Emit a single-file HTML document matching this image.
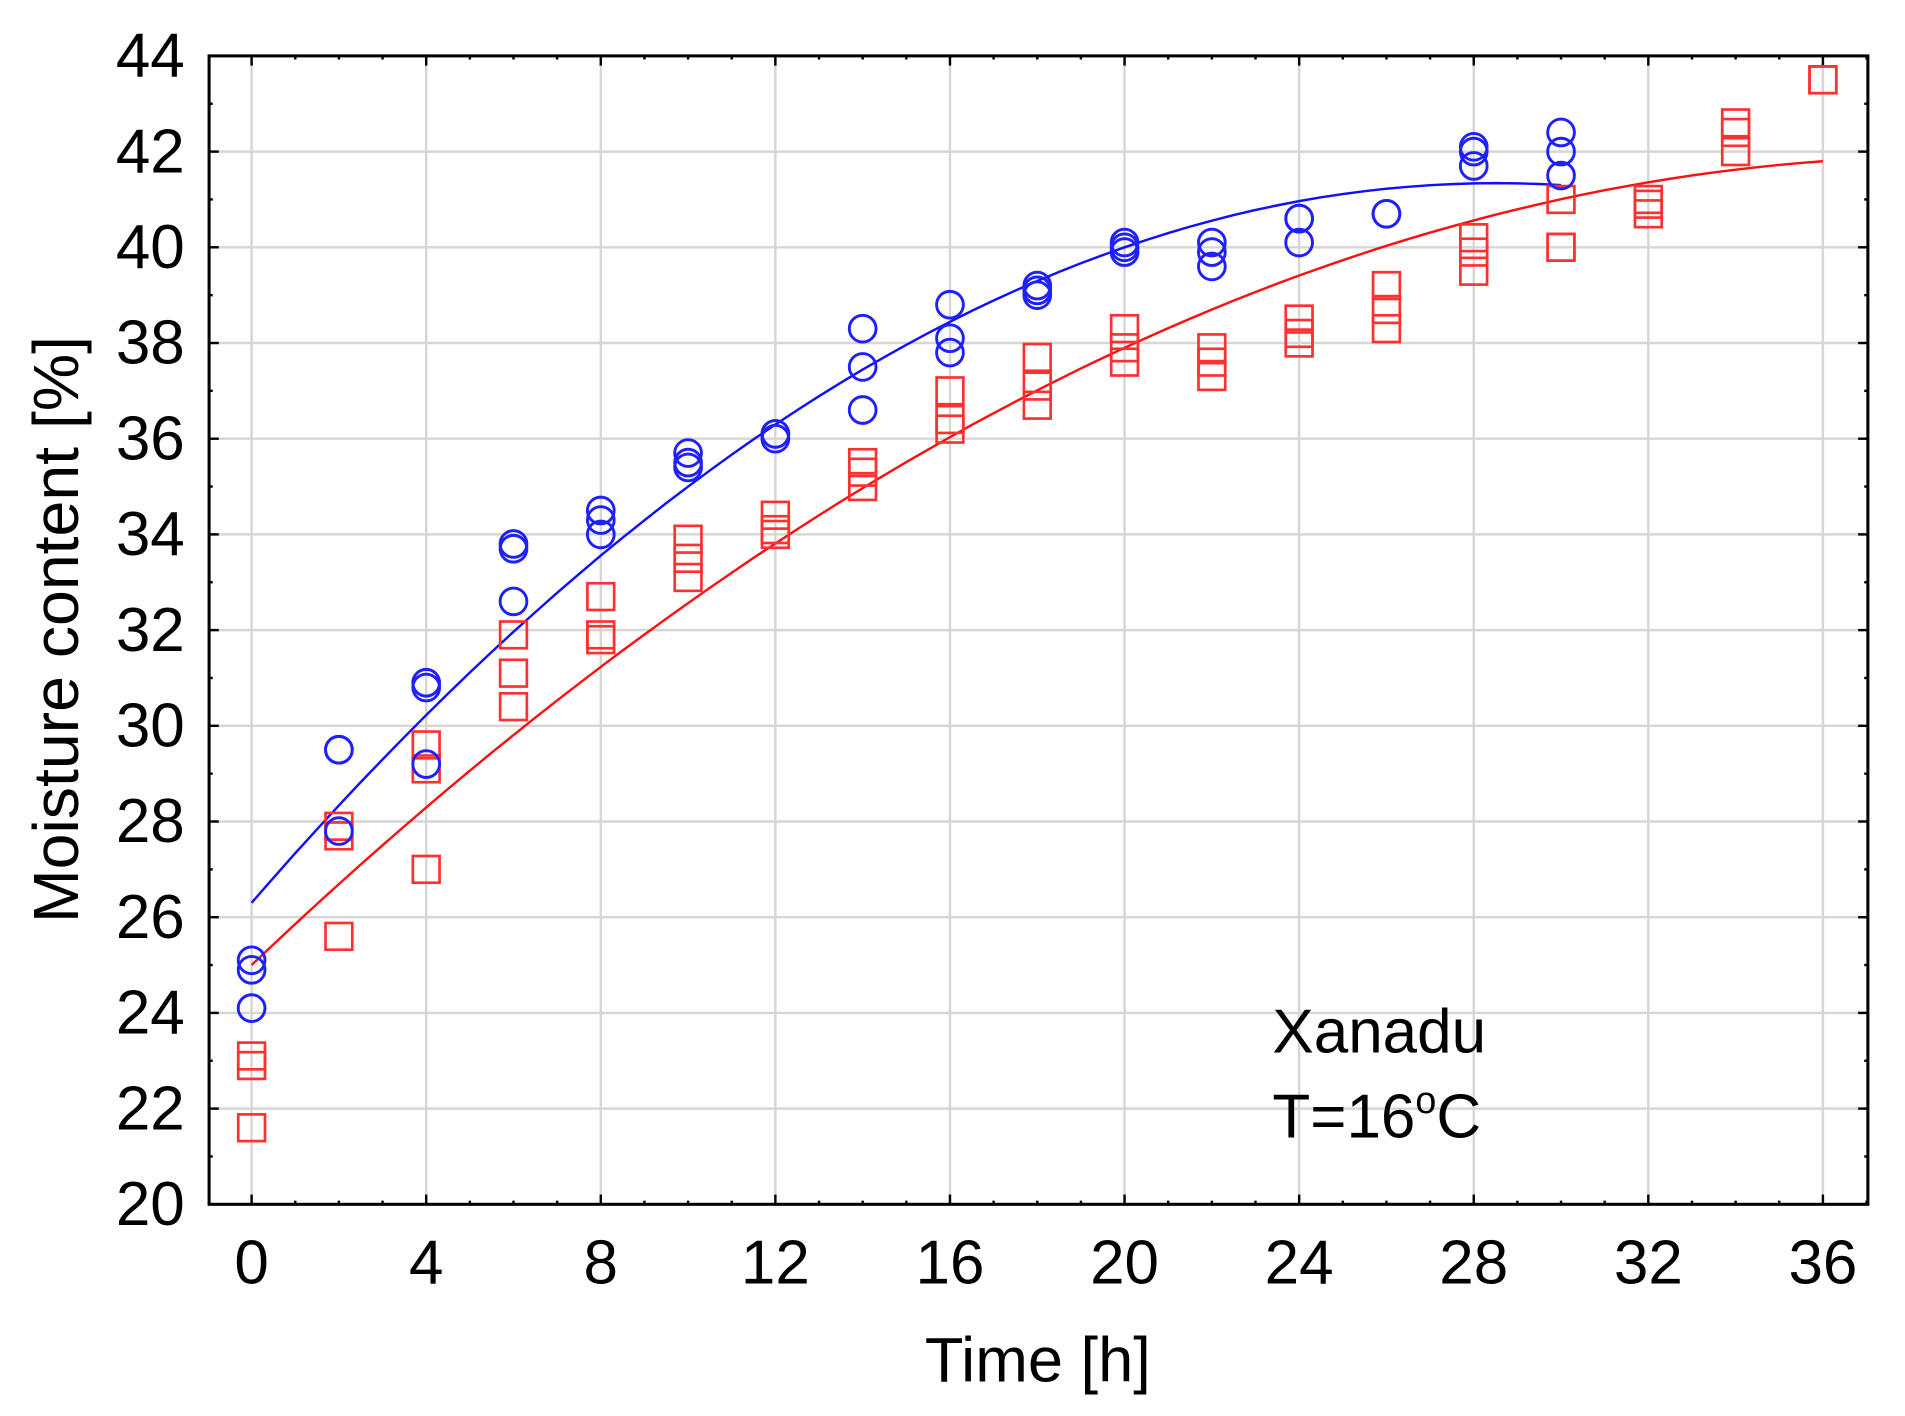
<!DOCTYPE html>
<html><head><meta charset="utf-8"><style>
html,body{margin:0;padding:0;background:#fff;}
svg{display:block;}
text{font-family:"Liberation Sans",Arial,sans-serif;fill:#000;}
</style></head><body>
<svg id="c" width="1905" height="1416" viewBox="0 0 1567.5 1165.2" xmlns="http://www.w3.org/2000/svg">
<rect width="1567.5" height="1165.2" fill="#fff"/>
<g id="g"></g>
<text x="0" y="0" font-size="53" text-anchor="middle" transform="translate(64,518) rotate(-90)">Moisture content [%]</text>
<text x="854" y="1137" font-size="52" text-anchor="middle">Time [h]</text>
<text x="1047" y="866" font-size="51">Xanadu</text>
<text x="1047" y="936" font-size="51">T=16<tspan font-size="31" dy="-20">o</tspan><tspan dy="20">C</tspan></text>
</svg>
<script>
var L=172,R=1537,T=46,B=991;
function X(t){return 207+t*(1500-207)/36;}
function Y(v){return B-(v-20)*(B-T)/24;}
var s='';
for(var t=0;t<=36;t+=4)s+='<line x1="'+X(t)+'" x2="'+X(t)+'" y1="'+T+'" y2="'+B+'" stroke="#d6d6d6" stroke-width="2"/>';
for(var v=22;v<44;v+=2)s+='<line x1="'+L+'" x2="'+R+'" y1="'+Y(v)+'" y2="'+Y(v)+'" stroke="#d6d6d6" stroke-width="2"/>';
for(var t=-1;t<=37;t++){var x=X(t);if(x<=L||x>=R)continue;var len=(t%4==0)?8:3;
s+='<line x1="'+x+'" x2="'+x+'" y1="'+B+'" y2="'+(B-len)+'" stroke="#000" stroke-width="2"/>';
s+='<line x1="'+x+'" x2="'+x+'" y1="'+T+'" y2="'+(T+len)+'" stroke="#000" stroke-width="2"/>';}
for(var v=20;v<=44;v++){var y=Y(v);var len=(v%2==0)?8:3;
s+='<line x1="'+L+'" x2="'+(L+len)+'" y1="'+y+'" y2="'+y+'" stroke="#000" stroke-width="2"/>';
s+='<line x1="'+R+'" x2="'+(R-len)+'" y1="'+y+'" y2="'+y+'" stroke="#000" stroke-width="2"/>';}
s+='<rect x="'+L+'" y="'+T+'" width="'+(R-L)+'" height="'+(B-T)+'" fill="none" stroke="#000" stroke-width="2.5"/>';
for(var t=0;t<=36;t+=4)s+='<text x="'+X(t)+'" y="1056" font-size="51" text-anchor="middle">'+t+'</text>';
for(var v=20;v<=44;v+=2)s+='<text x="152" y="'+(Y(v)+17)+'" font-size="51" text-anchor="end">'+v+'</text>';
function curve(a,b,c,t1,col){var p='';for(var t=0;t<=t1+0.001;t+=0.5){p+=(p?'L':'M')+X(t).toFixed(1)+','+Y(a+b*t+c*t*t).toFixed(1);}
return '<path d="'+p+'" fill="none" stroke="'+col+'" stroke-width="2"/>';}
s+=curve(26.3,1.055,-0.0185,30,'#1010ff');
s+=curve(25.0,0.868,-0.01115,36,'#ff1010');
var blue=[[0,25.1,24.9,24.1],[2,29.5,29.5,27.8],[4,30.9,30.8,29.2],[6,33.8,33.7,32.6],[8,34.5,34.3,34.0],[10,35.7,35.5,35.4],[12,36.1,36.0,36.1],[14,38.3,37.5,36.6],[16,38.8,38.1,37.8],[18,39.2,39.1,39.0],[20,40.1,40.0,39.9],[22,40.1,39.9,39.6],[24,40.6,40.6,40.1],[26,40.7,40.7],[28,42.1,42.0,41.7],[30,42.4,42.0,41.5]];
var red=[[0,23.1,22.9,21.6],[2,27.9,27.7,25.6],[4,29.6,29.1,27.0],[6,31.9,31.1,30.4],[8,32.7,31.9,31.8],[10,33.9,33.5,33.1],[12,34.4,34.1,34.0],[14,35.5,35.3,35.0],[16,37.0,36.4,36.2],[18,37.7,37.1,36.7],[20,38.3,37.9,37.6],[22,37.9,37.6,37.3],[24,38.5,38.2,38.0],[26,39.2,38.7,38.3],[28,40.2,39.9,39.5],[30,41.0,40.0,40.0],[32,41.0,40.9,40.7],[34,42.6,42.4,42.0],[36,43.5,43.5]];
red.forEach(function(r){for(var i=1;i<r.length;i++)s+='<rect x="'+(X(r[0])-11)+'" y="'+(Y(r[i])-11)+'" width="22" height="22" fill="none" stroke="#ff3030" stroke-width="2.2"/>';});
blue.forEach(function(r){for(var i=1;i<r.length;i++)s+='<circle cx="'+X(r[0])+'" cy="'+Y(r[i])+'" r="11" fill="none" stroke="#2020ff" stroke-width="2.4"/>';});
document.getElementById('g').innerHTML=s;
</script>
</body></html>
